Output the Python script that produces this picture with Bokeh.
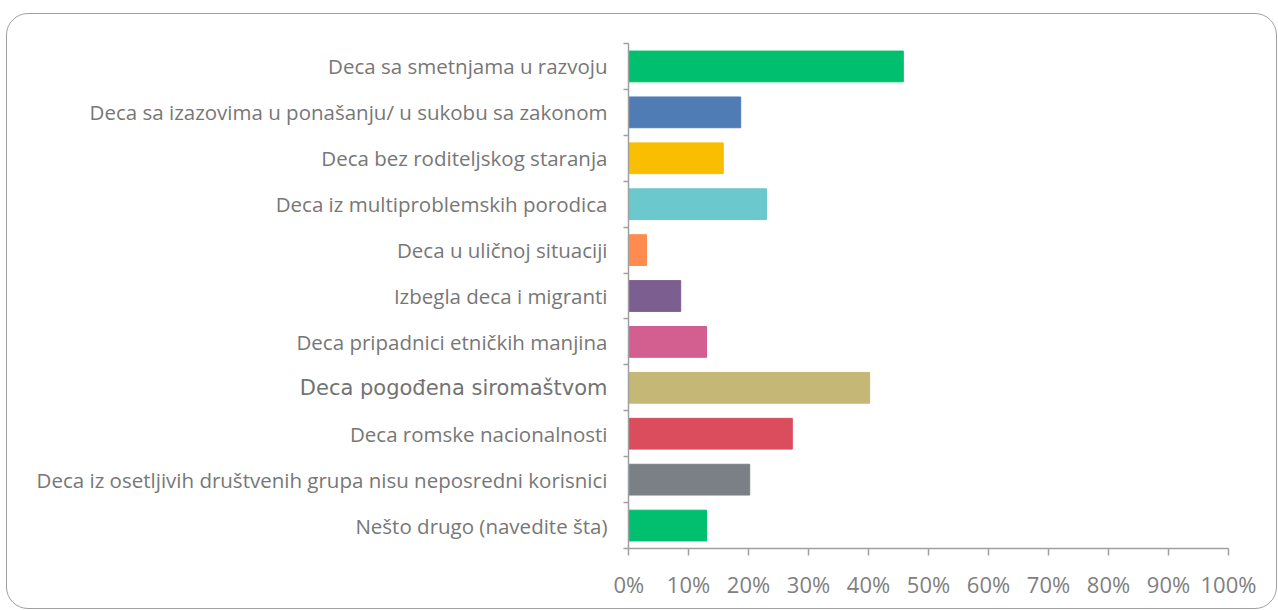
from bokeh.plotting import figure
from bokeh.layouts import row
from bokeh.models import ColumnDataSource, FixedTicker, PrintfTickFormatter, Range1d
from bokeh.core.properties import value
from bokeh.embed import file_html
from bokeh.resources import INLINE

categories = [
    "Deca sa smetnjama u razvoju",
    "Deca sa izazovima u ponašanju/ u sukobu sa zakonom",
    "Deca bez roditeljskog staranja",
    "Deca iz multiproblemskih porodica",
    "Deca u uličnoj situaciji",
    "Izbegla deca i migranti",
    "Deca pripadnici etničkih manjina",
    "Deca pogođena siromaštvom",
    "Deca romske nacionalnosti",
    "Deca iz osetljivih društvenih grupa nisu neposredni korisnici",
    "Nešto drugo (navedite šta)",
]
values = [45.8, 18.7, 15.8, 23.0, 3.0, 8.7, 13.0, 40.2, 27.3, 20.2, 13.0]
colors = ["#00BF6F", "#507CB6", "#F9BE00", "#6BC8CD", "#FF8B4F", "#7D5E90",
          "#D25F90", "#C5B776", "#DB4D5C", "#7A8086", "#00BF6F"]
x_ticks = [0, 10, 20, 30, 40, 50, 60, 70, 80, 90, 100]

n = len(categories)
ypos = [n - i - 0.5 for i in range(n)]
special = 7  # this label uses a different font in the original

src = ColumnDataSource(dict(cat=categories, val=values, color=colors, y=ypos))
reg_idx = [i for i in range(n) if i != special]
src_reg = ColumnDataSource(dict(cat=[categories[i] for i in reg_idx],
                                y=[ypos[i] for i in reg_idx],
                                one=[1] * len(reg_idx)))
src_sp = ColumnDataSource(dict(cat=[categories[special]], y=[ypos[special]], one=[1]))

TOP, BOTTOM, H = 29, 60, 594
yr = Range1d(0, n)

# label panel (left)
lab = figure(width=606, height=H, output_backend="svg", toolbar_location=None,
             x_range=Range1d(0, 1), y_range=yr,
             min_border_left=0, min_border_right=0, min_border_top=TOP,
             min_border_bottom=BOTTOM)
lab.axis.visible = False
lab.grid.visible = False
lab.outline_line_color = None
lab.background_fill_color = None
lab.border_fill_color = None
lab.text(x="one", y="y", text="cat", source=src_reg, x_offset=-6,
         text_align="right", text_baseline="middle",
         text_font=value("Open Sans"), text_font_size="20.5px", text_color="#777777")
lab.text(x="one", y="y", text="cat", source=src_sp, x_offset=-6,
         text_align="right", text_baseline="middle",
         text_font=value("DejaVu Sans"), text_font_size="21px", text_color="#737373")

# chart panel (right)
p = figure(width=663, height=H, output_backend="svg", toolbar_location=None,
           x_range=Range1d(0, 100), y_range=yr,
           min_border_left=15, min_border_right=48, min_border_top=TOP,
           min_border_bottom=BOTTOM)
p.outline_line_color = None
p.background_fill_color = None
p.border_fill_color = None
p.grid.visible = False

p.hbar(y="y", right="val", left=0, height=0.67, color="color", source=src)

xa = p.xaxis[0]
xa.ticker = FixedTicker(ticks=x_ticks)
xa.formatter = PrintfTickFormatter(format="%d%%")
xa.axis_line_color = "#a0a0a0"
xa.axis_line_width = 1.5
xa.major_tick_line_color = "#a0a0a0"
xa.major_tick_line_width = 1.5
xa.major_tick_in = 0
xa.major_tick_out = 7
xa.minor_tick_line_color = None
xa.major_label_text_font = "Open Sans"
xa.major_label_text_font_size = "22px"
xa.major_label_text_color = "#808080"
xa.major_label_standoff = 13

ya = p.yaxis[0]
ya.ticker = FixedTicker(ticks=list(range(n + 1)))
ya.major_label_text_font_size = "0px"
ya.major_label_text_color = None
ya.major_label_standoff = 0
ya.axis_line_color = "#a0a0a0"
ya.axis_line_width = 1.5
ya.major_tick_line_color = "#a0a0a0"
ya.major_tick_line_width = 1.5
ya.major_tick_in = 0
ya.major_tick_out = 5
ya.minor_tick_line_color = None

layout = row(lab, p, spacing=0)
layout.styles = {"border": "1.5px solid #a0a0a0", "border-radius": "22px",
                 "margin-left": "6px", "margin-top": "13px"}

open("out.html", "w").write(file_html(layout, INLINE))
